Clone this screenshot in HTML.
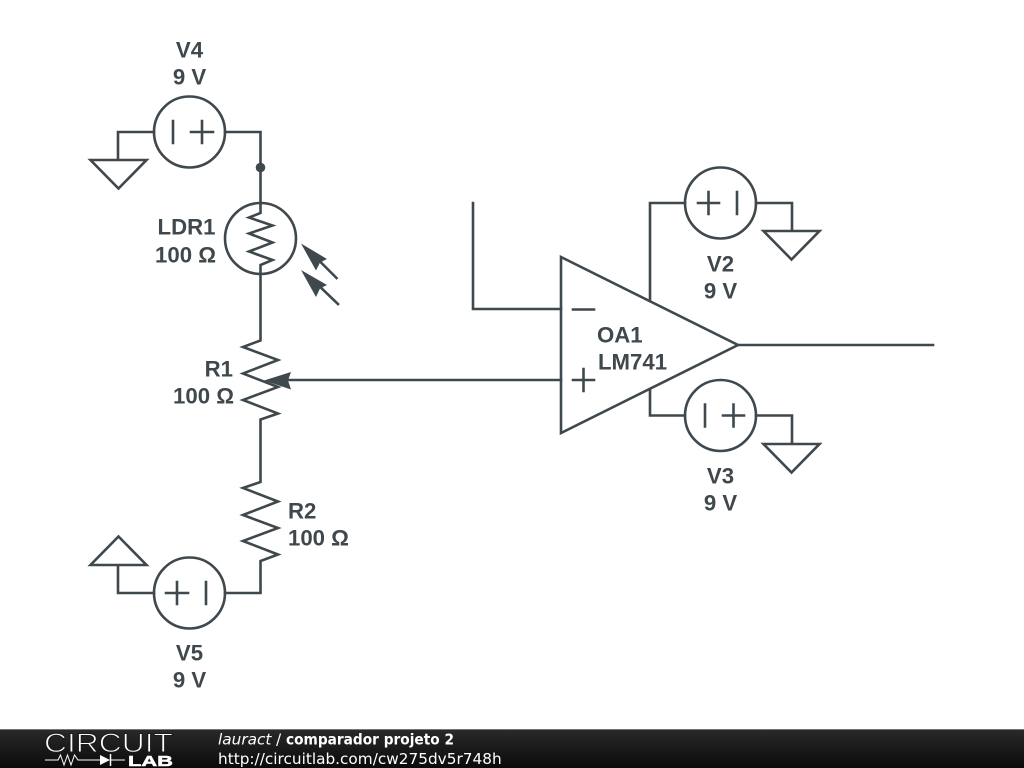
<!DOCTYPE html>
<html>
<head>
<meta charset="utf-8">
<style>
html,body{margin:0;padding:0;background:#fff;width:1024px;height:768px;overflow:hidden}
svg{display:block}
.w{fill:none;stroke:#3f484d;stroke-width:2.6;stroke-linejoin:miter;stroke-linecap:square}
.l{font-family:"Liberation Sans",sans-serif;font-weight:bold;font-size:22.2px;fill:#3f484d}
.f{font-family:"DejaVu Sans",sans-serif;font-size:15.3px;fill:#fff}
</style>
</head>
<body>
<svg width="1024" height="768" viewBox="0 0 1024 768" xmlns="http://www.w3.org/2000/svg">
<rect width="1024" height="768" fill="#fff"/>
<g class="w">
<!-- V4 -->
<circle cx="189.5" cy="132" r="35.5"/>
<path d="M154 132H118V160M90.500 160H146.500L118.500 188.500ZM225 132H260.500V203"/>
<path d="M173 121V143M191 132H213M202 121V143"/>
<!-- LDR -->
<circle cx="260.500" cy="238.500" r="35.500"/>
<path d="M260.500 203V213L249 217.500L272.500 225.500L249 233.500L272.500 242.500L249 251.500L272.500 260L260.500 265V340.500L243 347L278 360L243 373.500L278 387L243 400L278 413.500L260.500 419.500V482L243 488L278 501.500L243 515L278 528L243 541L278 554.500L260.500 561V593H225"/>
<path d="M336.500 278L316 257.500M338 304L316 283"/>
<!-- V5 -->
<circle cx="189.500" cy="593" r="35.500"/>
<path d="M154 593H118V565M90.500 565H146.500L118.500 536.500ZM166 593H188M177 582V604M206 582V604"/>
<!-- Op amp -->
<path d="M561 257L738 345L561 433Z"/>
<path d="M473 203V309H561M573 309.500H594M573 380H594M583.500 369V391M738 345H933M561 380H285"/>
<!-- V2 -->
<circle cx="720.500" cy="203" r="35.500"/>
<path d="M685 203H650V299M756 203H792V231M763.500 231H819.500L791.500 259.500ZM698 203H719M708.500 192V214M737 192V214"/>
<!-- V3 -->
<circle cx="720.500" cy="415.500" r="35.500"/>
<path d="M685 415.500H650V389M756 415.500H792V444M763.500 444H819.500L791.500 472.500ZM705 404.500V426.500M723 415.500H744M733.500 404.500V426.500"/>
</g>
<circle cx="260.500" cy="167.500" r="4.800" fill="#3f484d"/>
<g fill="#3f484d">
<path d="M264 380.500L291 372L288 380.500L291 389.500Z"/>
<path d="M301 243.500L327 259L320 262.500L316 270.500Z"/>
<path d="M301 270L327 285L320 288.500L316 297Z"/>
</g>
<g class="l" text-anchor="middle">
<text x="189.500" y="57.500">V4</text>
<text x="189.500" y="84.500">9 V</text>
<text x="720.500" y="271.500">V2</text>
<text x="720.500" y="298.500">9 V</text>
<text x="720.500" y="483.500">V3</text>
<text x="720.500" y="510.500">9 V</text>
<text x="189.500" y="660.500">V5</text>
<text x="189.500" y="687.500">9 V</text>
</g>
<g class="l" text-anchor="end">
<text x="215.500" y="234.500">LDR1</text>
<text x="216" y="262.500">100 Ω</text>
<text x="233" y="376.500">R1</text>
<text x="234" y="403.500">100 Ω</text>
</g>
<g class="l">
<text x="288" y="518.500">R2</text>
<text x="288" y="545.500">100 Ω</text>
<text x="597" y="342.500">OA1</text>
<text x="598" y="369.500">LM741</text>
</g>
<!-- footer -->
<defs><linearGradient id="g" x1="0" y1="0" x2="0" y2="1"><stop offset="0" stop-color="#2a2a2a"/><stop offset="1" stop-color="#0a0a0a"/></linearGradient></defs>
<rect x="0" y="729" width="1024" height="39" fill="url(#g)"/>
<rect x="0" y="729" width="1024" height="1" fill="#777"/>
<text x="44" y="752" font-family="Liberation Sans,sans-serif" font-size="26.500" fill="#fff" stroke="#1c1c1c" stroke-width="1" textLength="129" lengthAdjust="spacingAndGlyphs">CIRCUIT</text>
<path d="M45 760H58L60.500 755L64 765L67.500 755L71 765L74.500 755L78 760H100M110 760H125" fill="none" stroke="#fff" stroke-width="1"/>
<path d="M100 755L110 760L100 765Z" fill="#fff"/>
<path d="M110.500 754V766" stroke="#fff" stroke-width="1.500"/>
<text x="128" y="766" font-family="Liberation Sans,sans-serif" font-size="15" font-weight="bold" fill="#fff" stroke="#fff" stroke-width="0.5" textLength="45" lengthAdjust="spacingAndGlyphs">LAB</text>
<text class="f" x="218" y="744.500" font-style="italic">lauract</text>
<text class="f" x="276" y="744.500">/</text>
<text class="f" x="286" y="744.500" font-weight="bold" textLength="168" lengthAdjust="spacingAndGlyphs">comparador projeto 2</text>
<text class="f" x="218" y="764">http://circuitlab.com/cw275dv5r748h</text>
</svg>
</body>
</html>
